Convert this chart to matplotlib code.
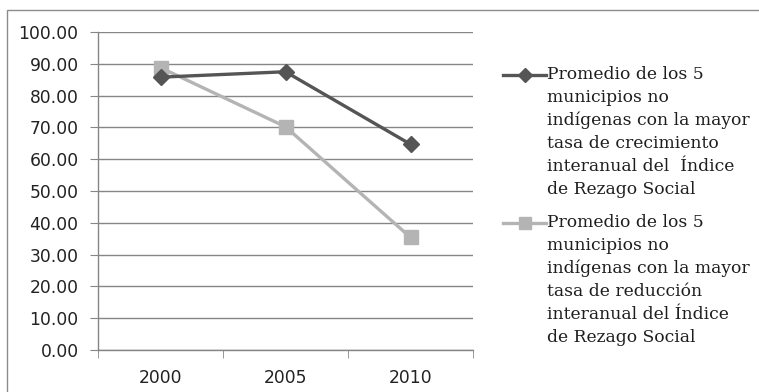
import matplotlib
matplotlib.use("Agg")
import matplotlib.pyplot as plt
from matplotlib.lines import Line2D
from matplotlib.patches import Rectangle

years = ["2000", "2005", "2010"]
crecimiento = [85.8, 87.5, 64.7]
reduccion = [88.8, 70.2, 35.4]
series_labels = [
    "Promedio de los 5\nmunicipios no\nindígenas con la mayor\ntasa de crecimiento\ninteranual del  Índice\nde Rezago Social",
    "Promedio de los 5\nmunicipios no\nindígenas con la mayor\ntasa de reducción\ninteranual del Índice\nde Rezago Social",
]
y_ticks = [0, 10, 20, 30, 40, 50, 60, 70, 80, 90, 100]

W, H = 759, 392
fig = plt.figure(figsize=(W / 100, H / 100), dpi=100)
fig.patch.set_facecolor("white")

# outer frame
fig.add_artist(Rectangle((7 / W, -0.1), 1.2, 1 - 10 / H + 0.1, transform=fig.transFigure,
                         fill=False, edgecolor="#8c8c8c", linewidth=1.0))

ax = fig.add_axes([98 / W, 1 - 350 / H, (473 - 98) / W, (350 - 32) / H])
x = list(range(len(years)))
dark = "#555555"
light = "#b4b4b4"
ax.plot(x, reduccion, color=light, linewidth=2.4, marker="s", markersize=10,
        markerfacecolor=light, markeredgecolor=light, zorder=3)
ax.plot(x, crecimiento, color=dark, linewidth=2.4, marker="D", markersize=8,
        markerfacecolor=dark, markeredgecolor=dark, zorder=4)

ax.set_xlim(-0.5, len(years) - 0.5)
ax.set_ylim(0, 100)
ax.set_yticks(y_ticks)
ax.set_yticklabels([f"{v:.2f}" for v in y_ticks])
ax.set_xticks(x)
ax.set_xticklabels(years)
ax.set_xticks([i - 0.5 for i in range(len(years) + 1)], minor=True)
ax.tick_params(axis="x", which="major", length=0, pad=14, labelsize=12.3, colors="#222222")
ax.tick_params(axis="x", which="minor", length=6, direction="out", color="#868686")
ax.tick_params(axis="y", length=6, direction="out", color="#868686", labelsize=12.3,
               pad=8, labelcolor="#222222")
ax.grid(axis="y", color="#868686", linewidth=1.0)
ax.set_axisbelow(True)
for s in ["top", "right"]:
    ax.spines[s].set_visible(False)
for s in ["left", "bottom"]:
    ax.spines[s].set_color("#868686")
    ax.spines[s].set_linewidth(1.0)

# legend drawn to the right of the plot
leg_font = dict(family="DejaVu Serif", fontsize=12.3, color="#1e1e1e", linespacing=1.45)
entries = [(crecimiento, dark, "D", 7), (reduccion, light, "s", 8)]
tops = [75, 223]
for (vals, col, mk, ms), lab, yt in zip(entries, series_labels, tops):
    yf = 1 - yt / H
    fig.add_artist(Line2D([503 / W, 546 / W], [yf, yf], transform=fig.transFigure,
                          color=col, linewidth=2.4))
    fig.add_artist(Line2D([524.5 / W], [yf], transform=fig.transFigure, color=col,
                          marker=mk, markersize=ms, markerfacecolor=col,
                          markeredgecolor=col))
    fig.text(547 / W, yf + 9 / H, lab, ha="left", va="top", **leg_font)

fig.savefig("out.png", dpi=100)
